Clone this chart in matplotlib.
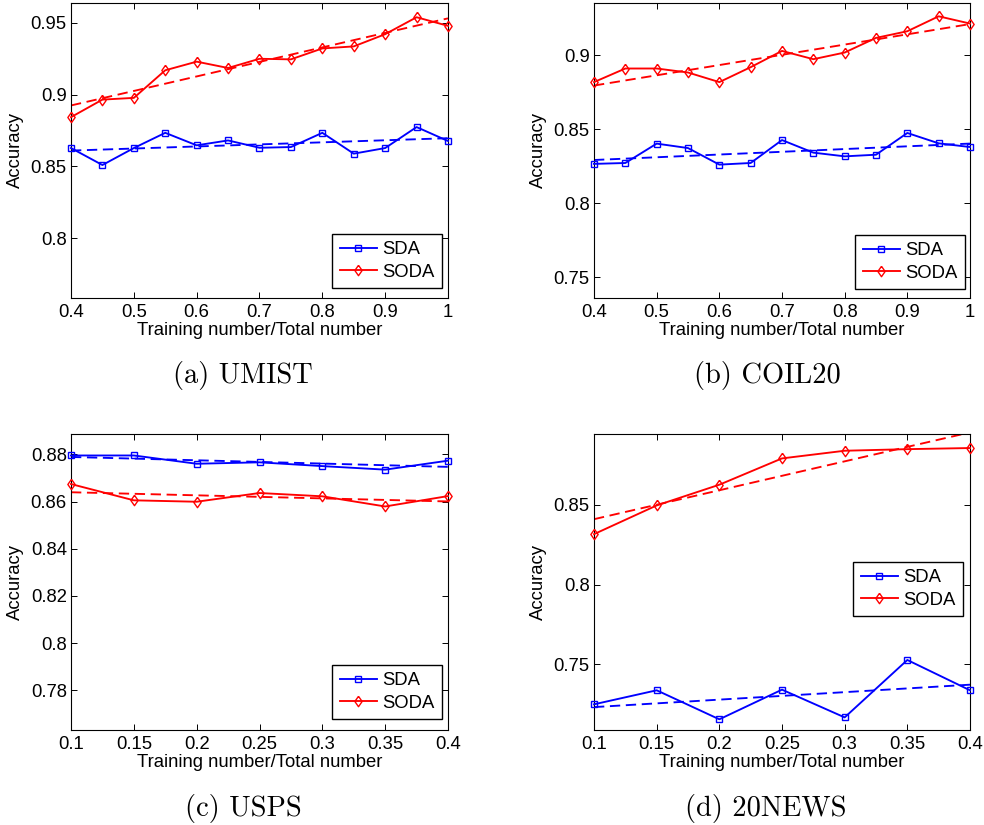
import numpy as np
import matplotlib
matplotlib.use("Agg")
import matplotlib.pyplot as plt
from matplotlib.ticker import FuncFormatter

plt.rcParams['font.family'] = ['Liberation Sans', 'DejaVu Sans']

# ---------------- data ----------------
x_umist = [0.4, 0.45, 0.5, 0.55, 0.6, 0.65, 0.7, 0.75, 0.8, 0.85, 0.9, 0.95, 1.0]
umist_sda = [0.8628, 0.8510, 0.8628, 0.8734, 0.8647, 0.8681, 0.8630, 0.8635,
             0.8734, 0.8589, 0.8628, 0.8774, 0.8677]
umist_soda = [0.8843, 0.8965, 0.8977, 0.9169, 0.9229, 0.9185, 0.9249, 0.9245,
              0.9321, 0.9335, 0.9420, 0.9538, 0.9478]

x_coil = [0.4, 0.45, 0.5, 0.55, 0.6, 0.65, 0.7, 0.75, 0.8, 0.85, 0.9, 0.95, 1.0]
coil_sda = [0.8265, 0.8271, 0.8402, 0.8372, 0.8260, 0.8271, 0.8426, 0.8341,
            0.8316, 0.8327, 0.8474, 0.8404, 0.8379]
coil_soda = [0.8818, 0.8910, 0.8910, 0.8883, 0.8818, 0.8919, 0.9029, 0.8973,
             0.9018, 0.9117, 0.9162, 0.9263, 0.9214]

x_usps = [0.1, 0.15, 0.2, 0.25, 0.3, 0.35, 0.4]
usps_sda = [0.8795, 0.8795, 0.8760, 0.8766, 0.8750, 0.8735, 0.8773]
usps_soda = [0.8674, 0.8605, 0.8599, 0.8636, 0.8622, 0.8579, 0.8623]

x_news = [0.1, 0.15, 0.2, 0.25, 0.3, 0.35, 0.4]
news_sda = [0.7249, 0.7337, 0.7155, 0.7341, 0.7167, 0.7527, 0.7337]
news_soda = [0.8316, 0.8496, 0.8626, 0.8791, 0.8839, 0.8849, 0.8856]

captions = ['(a) UMIST', '(b) COIL20', '(c) USPS', '(d) 20NEWS']
series_labels = ['SDA', 'SODA']
xlabel_text = 'Training number/Total number'
ylabel_text = 'Accuracy'

xticks_top = [0.4, 0.5, 0.6, 0.7, 0.8, 0.9, 1.0]
xticks_bottom = [0.1, 0.15, 0.2, 0.25, 0.3, 0.35, 0.4]
yticks_umist = [0.8, 0.85, 0.9, 0.95]
yticks_coil = [0.75, 0.8, 0.85, 0.9]
yticks_usps = [0.78, 0.8, 0.82, 0.84, 0.86, 0.88]
yticks_news = [0.75, 0.8, 0.85]

# ---------------- figure ----------------
W, H = 984, 825
fig = plt.figure(figsize=(W / 100, H / 100), dpi=100)

def px_axes(l, t, r, b):
    return fig.add_axes([l / W, 1 - b / H, (r - l) / W, (b - t) / H])

BLUE = '#0000ff'
RED = '#ff0000'
FS = 13.3
DIAMOND = [(0, 1), (0.7, 0), (0, -1), (-0.7, 0), (0, 1)]

panels = [
    dict(box=(71, 3, 448, 298), x=x_umist, sda=umist_sda, soda=umist_soda,
         xlim=(0.4, 1.0), ylim=(0.7585, 0.9637), xt=xticks_top, yt=yticks_umist,
         leg=(0.984, 0.034)),
    dict(box=(594, 3, 970, 298), x=x_coil, sda=coil_sda, soda=coil_soda,
         xlim=(0.4, 1.0), ylim=(0.7358, 0.9353), xt=xticks_top, yt=yticks_coil,
         leg=(0.987, 0.030)),
    dict(box=(71, 434, 448, 730), x=x_usps, sda=usps_sda, soda=usps_soda,
         xlim=(0.1, 0.4), ylim=(0.7632, 0.8886), xt=xticks_bottom, yt=yticks_usps,
         leg=(0.984, 0.037)),
    dict(box=(594, 434, 970, 730), x=x_news, sda=news_sda, soda=news_soda,
         xlim=(0.1, 0.4), ylim=(0.7088, 0.8944), xt=xticks_bottom, yt=yticks_news,
         leg=(0.981, 0.385)),
]

fmt = FuncFormatter(lambda v, p: ('%g' % round(v, 4)))

for i, p in enumerate(panels):
    ax = px_axes(*p['box'])
    x = np.array(p['x'])
    for vals, col, mk, ms, lab in [(p['sda'], BLUE, 's', 5, series_labels[0]),
                                   (p['soda'], RED, DIAMOND, 7.5, series_labels[1])]:
        ax.plot(x, vals, color=col, lw=1.35, marker=mk, ms=ms, mfc='none',
                mec=col, mew=1.0, label=lab, clip_on=False, zorder=3)
        k, c = np.polyfit(x, vals, 1)
        ax.plot(x, k * x + c, color=col, lw=1.35, ls=(0, (5.5, 3)), zorder=2)
    ax.set_xlim(*p['xlim'])
    ax.set_ylim(*p['ylim'])
    ax.set_xticks(p['xt'])
    ax.set_yticks(p['yt'])
    ax.xaxis.set_major_formatter(fmt)
    ax.yaxis.set_major_formatter(fmt)
    ax.tick_params(direction='in', length=4, width=0.7, top=True, right=True,
                   labelsize=FS, pad=4)
    ax.tick_params(axis='y', pad=3)
    for s in ax.spines.values():
        s.set_linewidth(0.8)
    ax.set_xlabel(xlabel_text, fontsize=FS)
    ax.set_ylabel(ylabel_text, fontsize=FS)
    ax.xaxis.set_label_coords(0.5, -0.082)
    ax.yaxis.set_label_coords(-0.124, 0.5)
    leg = ax.legend(loc='lower right', bbox_to_anchor=p['leg'], borderaxespad=0,
                    fontsize=FS, fancybox=False, framealpha=1, edgecolor='black',
                    handlelength=2.0, handletextpad=0.3, labelspacing=0.3,
                    borderpad=0.4)
    leg.get_frame().set_linewidth(1.0)

# captions
cap_pos = [(243, 383), (767, 383), (243, 816), (766, 816)]
for (cx, cy), txt in zip(cap_pos, captions):
    fig.text(cx / W, 1 - cy / H, txt, ha='center', va='baseline',
             fontsize=20.5, family=['cmr10', 'DejaVu Serif'])

fig.savefig('out.png', dpi=100)
